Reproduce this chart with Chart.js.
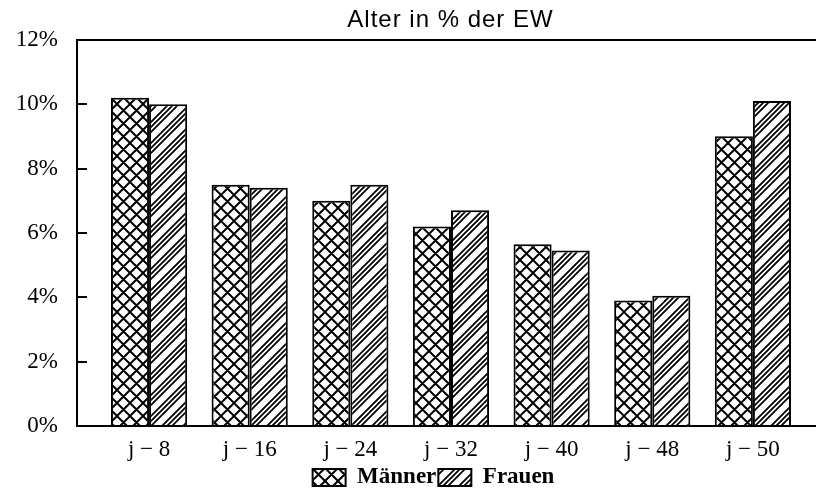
<!DOCTYPE html>
<html>
<head>
<meta charset="utf-8">
<script src="https://cdn.jsdelivr.net/npm/chart.js@4/dist/chart.umd.min.js"></script>
<style>
  html, body { margin: 0; padding: 0; background: #fff; }
  #wrap { width: 816px; height: 490px; position: relative; }
</style>
</head>
<body>
<div id="wrap"><canvas id="c"></canvas></div>
<script>
// ---- data ----
const titleText = 'Alter in % der EW';
const categories = ['j \u2212 8', 'j \u2212 16', 'j \u2212 24', 'j \u2212 32', 'j \u2212 40', 'j \u2212 48', 'j \u2212 50'];
const seriesNames = ['M\u00e4nner', 'Frauen'];
const maennerValues = [10.2, 7.5, 7.0, 6.2, 5.65, 3.9, 9.0];
const frauenValues  = [10.0, 7.4, 7.5, 6.7, 5.45, 4.05, 10.1];
const yTicks = [0, 2, 4, 6, 8, 10, 12];

// ---- patterns ----
function makePattern(P, drawFn) {
  const c = document.createElement('canvas');
  c.width = P; c.height = P;
  const g = c.getContext('2d');
  g.fillStyle = '#fff';
  g.fillRect(0, 0, P, P);
  g.strokeStyle = '#000';
  drawFn(g, P);
  return document.getElementById('c').getContext('2d').createPattern(c, 'repeat');
}
const crossHatch = makePattern(13, (g, P) => {
  g.lineWidth = 2;
  g.beginPath();
  for (let k = -1; k <= 1; k++) {
    const d = k * P;
    g.moveTo(d - P, -P); g.lineTo(d + 2 * P, 2 * P);       // "\"
    const e = (k + 1) * P;
    g.moveTo(e + P, -P); g.lineTo(e - 2 * P, 2 * P);       // "/"
  }
  g.stroke();
});
const slashHatch = makePattern(21, (g, P) => {
  g.lineWidth = 1.8;
  g.beginPath();
  [0, 5, 10].forEach(c0 => {
    for (let k = -1; k <= 2; k++) {
      const d = c0 + k * P;
      g.moveTo(d + P, -P); g.lineTo(d - 2 * P, 2 * P);
    }
  });
  g.stroke();
});

const serif = 'Liberation Serif';

const tweaks = {
  id: 'tweaks',
  afterLayout(chart) {
    const tb = chart.titleBlock;
    if (tb) {
      if (!tb._wrapped) {
        const orig = tb.draw;
        tb.draw = function (area) {
          const ctx = chart.ctx;
          ctx.save();
          ctx.letterSpacing = '1px';
          orig.call(this, area);
          ctx.restore();
        };
        tb._wrapped = true;
      }
      const ca = chart.chartArea;
      const d = (ca.left + ca.right) / 2 + 4 - (tb.left + tb.right) / 2;
      tb.left += d; tb.right += d;
    }
    if (chart.legend) {
      chart.legend.left += 19;
      chart.legend.right += 19;
    }
  }
};

new Chart(document.getElementById('c'), {
  type: 'bar',
  data: {
    datasets: [
      {
        label: seriesNames[0],
        data: maennerValues.map((v, i) => ({ x: i, y: v })),
        backgroundColor: crossHatch,
        borderColor: '#000',
        borderWidth: 2
      },
      {
        label: seriesNames[1],
        data: frauenValues.map((v, i) => ({ x: i, y: v })),
        backgroundColor: slashHatch,
        borderColor: '#000',
        borderWidth: 2
      }
    ]
  },
  options: {
    responsive: true,
    maintainAspectRatio: false,
    animation: false,
    devicePixelRatio: 1,
    categoryPercentage: 0.757,
    barPercentage: 1.0,
    layout: { padding: { left: 13, right: 0, top: 0, bottom: -9 } },
    plugins: {
      tooltip: { enabled: false },
      title: {
        display: true,
        text: titleText,
        fullSize: true,
        color: '#000',
        font: { family: 'Liberation Sans', size: 24, weight: 'normal' },
        padding: { top: 6, bottom: 5 }
      },
      legend: {
        display: true,
        position: 'bottom',
        labels: {
          color: '#000',
          boxWidth: 33,
          boxHeight: 17,
          padding: 2,
          font: { family: serif, size: 23, weight: 'bold' }
        }
      }
    },
    scales: {
      x: {
        type: 'linear',
        min: -0.716,
        max: 6.627,
        offset: false,
        grid: { display: false, offset: false, drawTicks: false },
        border: { display: true, color: '#000', width: 2 },
        afterBuildTicks(scale) {
          scale.ticks = categories.map((c, i) => ({ value: i }));
        },
        afterFit(scale) { scale.height = 38; },
        ticks: {
          color: '#000',
          padding: 10,
          maxRotation: 0,
          autoSkip: false,
          font: { family: serif, size: 23 },
          callback: (v) => categories[v]
        }
      },
      y: {
        min: 0,
        max: 12,
        afterBuildTicks(scale) {
          scale.ticks = yTicks.map(v => ({ value: v }));
        },
        afterFit(scale) {
          scale.width = 64;
          scale.paddingTop = 14;
          scale.paddingBottom = 14;
        },
        grid: {
          display: true,
          drawOnChartArea: true,
          drawTicks: true,
          tickLength: -10,
          tickColor: '#000',
          tickWidth: 2,
          lineWidth: 2,
          color: (ctx) => (ctx.tick && ctx.tick.value === 12) ? '#000' : 'rgba(0,0,0,0)'
        },
        border: { display: true, color: '#000', width: 2 },
        ticks: {
          color: '#000',
          padding: 29,
          font: { family: serif, size: 23 },
          callback: (v) => v + '%'
        }
      }
    }
  },
  plugins: [tweaks]
});
</script>
</body>
</html>
